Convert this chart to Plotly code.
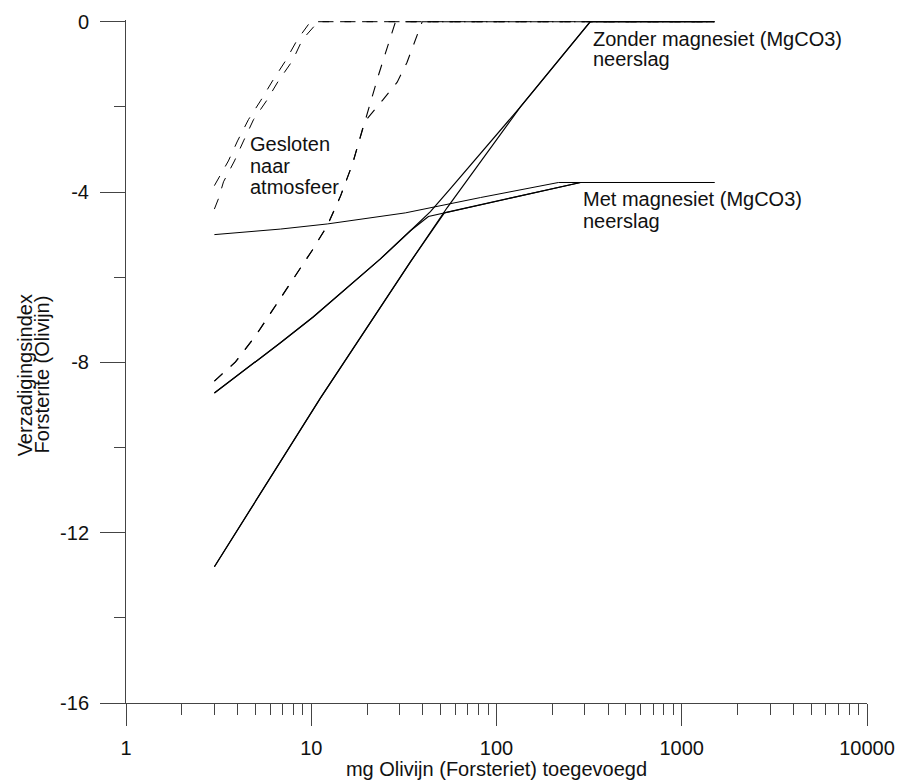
import math
import plotly.graph_objects as go

# ---------------- data ----------------
# Solid curves
s1_zonder_x = [3.0, 11.2, 34.3, 54.1, 134.6, 321, 1500]
s1_zonder_y = [-12.8, -8.84, -5.64, -4.37, -2.0, 0.0, 0.0]

s1_met_x = [3.0, 11.2, 34.3, 52.3, 284, 1500]
s1_met_y = [-12.8, -8.84, -5.64, -4.49, -3.776, -3.776]

b_zonder_x = [3.0, 4.70, 6.82, 10.28, 15.68, 23.63, 34.3, 43.98, 56.38, 134.6, 321, 1500]
b_zonder_y = [-8.72, -8.08, -7.54, -6.93, -6.25, -5.57, -4.91, -4.46, -3.92, -2.0, 0.0, 0.0]

b_met_x = [3.0, 4.70, 6.82, 10.28, 15.68, 23.63, 34.3, 42.9, 284, 1500]
b_met_y = [-8.72, -8.08, -7.54, -6.93, -6.25, -5.57, -4.91, -4.575, -3.776, -3.776]

c_met_x = [3.0, 6.82, 12.2, 32.2, 81.9, 216, 1500]
c_met_y = [-5.0, -4.87, -4.75, -4.49, -4.13, -3.776, -3.776]

# Dashed curves (closed to atmosphere)
da_x = [3.0, 3.57, 4.0, 4.58, 5.32, 6.18, 7.26, 8.42, 9.9, 1500]
da_y = [-3.85, -3.27, -2.80, -2.30, -1.86, -1.39, -0.92, -0.42, 0.0, 0.0]

db_x = [3.0, 3.16, 3.36, 3.85, 4.31, 4.88, 5.73, 6.65, 7.91, 8.96, 10.9, 1500]
db_y = [-4.40, -4.15, -3.76, -3.27, -2.80, -2.30, -1.86, -1.39, -0.92, -0.42, 0.0, 0.0]

dc_common_x = [3.0, 3.90, 5.0, 6.41, 8.22, 10.15, 12.2, 14.4, 16.7, 19.4]
dc_common_y = [-8.44, -7.99, -7.38, -6.67, -5.94, -5.36, -4.79, -4.09, -3.34, -2.35]

dc1_tail_x = [21.4, 23.1, 25.1, 27.4, 28.5, 1500]
dc1_tail_y = [-1.76, -1.245, -0.75, -0.21, 0.0, 0.0]

dc2_tail_x = [24.3, 29.1, 32.9, 36.5, 39.7, 1500]
dc2_tail_y = [-1.84, -1.42, -0.95, -0.42, 0.0, 0.0]

# Axes
x_major = [1, 10, 100, 1000, 10000]
x_labels = ["1", "10", "100", "1000", "10000"]
x_minor = [m * d for d in (1, 10, 100, 1000) for m in range(2, 10)]
y_major = [0, -4, -8, -12, -16]
y_labels = ["0", "-4", "-8", "-12", "-16"]
y_minor = [-2, -6, -10, -14]

# Text labels inside the plot (data coordinates)
labels = [
    ("Gesloten", 4.6, -2.87),
    ("naar", 4.6, -3.38),
    ("atmosfeer", 4.6, -3.88),
    ("Zonder magnesiet (MgCO3)", 328, -0.416),
    ("neerslag", 328, -0.886),
    ("Met magnesiet (MgCO3)", 290, -4.175),
    ("neerslag", 290, -4.67),
]

FONT = "Liberation Sans, Arial, Helvetica, sans-serif"
INK = "#111111"
AX = "#444444"

fig = go.Figure()

def add(x, y, dash="solid", width=1.2):
    fig.add_trace(go.Scatter(
        x=x, y=y, mode="lines",
        line=dict(color="black", width=width, dash=dash),
        showlegend=False, hoverinfo="skip"))

DASH = "11px,11px"
add(dc_common_x + dc1_tail_x, dc_common_y + dc1_tail_y, DASH, 1.1)
add(dc_common_x + dc2_tail_x, dc_common_y + dc2_tail_y, DASH, 1.1)
add(da_x, da_y, DASH, 1.0)
add(db_x, db_y, DASH, 1.0)
add(c_met_x, c_met_y, "solid", 1.0)
add(b_zonder_x, b_zonder_y, "solid", 1.2)
add(b_met_x, b_met_y, "solid", 1.2)
add(s1_zonder_x, s1_zonder_y, "solid", 1.2)
add(s1_met_x, s1_met_y, "solid", 1.2)

for txt, lx, ly in labels:
    fig.add_annotation(x=math.log10(lx), y=ly, xref="x", yref="y", text=txt, showarrow=False,
                       xanchor="left", yanchor="middle", borderpad=0,
                       font=dict(family=FONT, size=20, color=INK))

# y axis title as two rotated lines
for txt, px in (("Verzadigingsindex", -0.137), ("Forsterite (Olivijn)", -0.114)):
    fig.add_annotation(x=px, y=0.4804, xref="paper", yref="paper", text=txt,
                       showarrow=False, textangle=-90, xanchor="center", yanchor="middle",
                       font=dict(family=FONT, size=20, color=INK))

fig.update_layout(
    width=897, height=780,
    margin=dict(l=125.5, r=30.3, t=20.3, b=77, autoexpand=False),
    paper_bgcolor="white", plot_bgcolor="white",
    font=dict(family=FONT, size=20, color=INK),
    xaxis=dict(type="log", range=[0, 4], tickmode="array", tickvals=x_major, ticktext=x_labels,
               ticks="outside", ticklen=22, tickwidth=1, tickcolor=AX, ticklabelstandoff=5,
               showline=True, linecolor=AX, linewidth=1, showgrid=False, zeroline=False,
               minor=dict(tickmode="array", tickvals=x_minor, ticks="outside", ticklen=11,
                          tickwidth=1, tickcolor=AX, showgrid=False),
               tickfont=dict(family=FONT, size=20, color=INK),
               title=dict(text="mg Olivijn (Forsteriet) toegevoegd", standoff=0,
                          font=dict(family=FONT, size=20, color=INK))),
    yaxis=dict(range=[-16, 0.04], tickmode="array", tickvals=y_major, ticktext=y_labels,
               ticks="outside", ticklen=25, tickwidth=1, tickcolor=AX, ticklabelstandoff=7,
               showline=True, linecolor=AX, linewidth=1, showgrid=False, zeroline=False,
               minor=dict(tickmode="array", tickvals=y_minor, ticks="outside", ticklen=11,
                          tickwidth=1, tickcolor=AX, showgrid=False),
               tickfont=dict(family=FONT, size=20, color=INK)),
)

fig.write_html(
    "out.html",
    config={"displayModeBar": False, "responsive": False},
    post_script="document.body.style.margin='0px';document.body.style.overflow='hidden';",
)
